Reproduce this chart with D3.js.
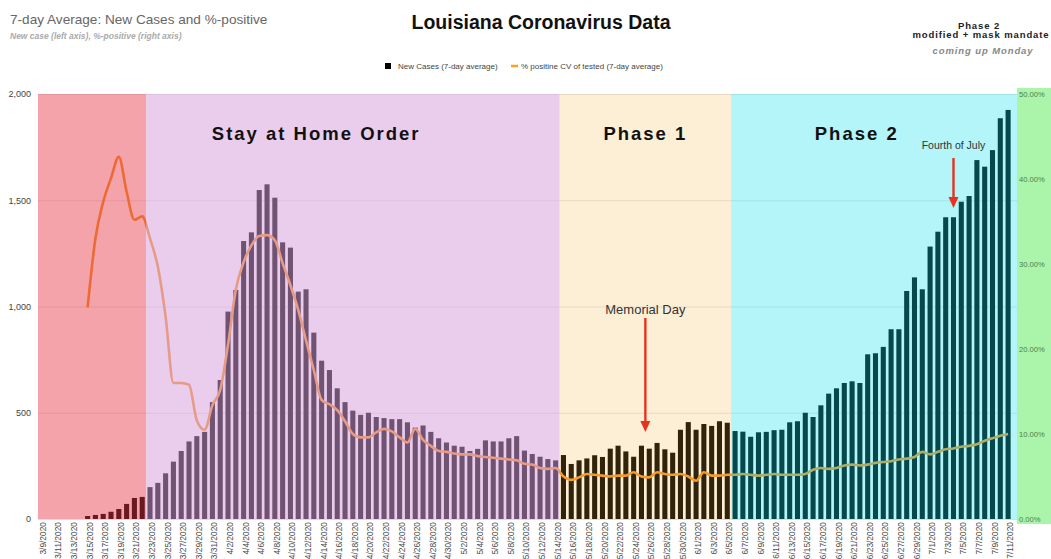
<!DOCTYPE html>
<html>
<head>
<meta charset="utf-8">
<script src="https://cdn.jsdelivr.net/npm/d3@7/dist/d3.min.js"></script>
<style>
  body { margin: 0; background: #fff; }
  svg text { font-family: "Liberation Sans", Arial, sans-serif; }
</style>
</head>
<body>
<div id="grafico"></div>
<script>
// dias do grafico: 3/9/2020 ate 7/11/2020
var dias = d3.timeDay.range(new Date(2020, 2, 9), new Date(2020, 6, 12));
var rotulos = dias.map(d3.timeFormat("%-m/%-d/%Y"));

// novos casos (media de 7 dias), eixo esquerdo
var casos = [
  0, 0, 0, 0, 0, 0, 14, 19, 24, 34, 47, 71, 99, 104,
  150, 170, 215, 270, 320, 365, 390, 410, 550,
  654, 976, 1078, 1308, 1349, 1548, 1575, 1512, 1302, 1277, 1070, 1081, 877, 745, 701,
  615, 550, 510, 490, 500, 480, 475, 470, 470, 455, 430, 440, 410, 380, 360, 345, 340, 320, 330, 370, 365, 365, 380, 390,
  322, 306, 293, 282, 276,
  301, 259, 276, 285, 300, 292, 331, 345, 318, 293, 345, 331, 358, 328, 312, 420, 456, 420, 447, 438, 460, 453,
  414, 411, 387, 408, 410, 418, 420, 455, 460, 500, 480, 535, 590, 615, 640, 648, 640, 775, 780, 810,
  893, 893, 1073, 1137, 1081, 1282, 1352, 1420, 1420, 1493, 1520, 1689, 1658, 1736, 1886, 1925
];

// % positivo (media de 7 dias), eixo direito
var positivo = [
  null, null, null, null, null, null,
  24.9, 33.0, 37.3, 40.1, 42.6, 38.5, 35.2, 35.6, 33.0, 29.7, 23.8, 16.0, 16.0, 15.8,
  11.6, 10.5, 13.4, 15.2, 20.5, 27.0, 30.2, 32.2, 33.3, 33.4, 32.8, 30.1, 27.5, 24.6, 21.0, 17.5,
  14.0, 13.5, 12.8, 11.5, 10.0, 9.6, 9.6, 10.2, 10.6, 10.3, 9.6, 9.0, 10.6, 9.3, 8.6, 8.0, 7.9,
  7.7, 7.6, 7.6, 7.4, 7.3, 7.2, 7.1, 7.0, 6.9, 6.5, 6.4, 6.0, 5.9, 6.0,
  5.0, 4.6, 4.9, 5.3, 5.2, 5.1, 5.0, 5.1, 5.1, 5.5, 5.0, 4.9, 5.5, 5.3, 5.2, 5.3, 5.0, 4.5, 5.5, 5.1, 5.1, 5.2,
  5.2, 5.3, 5.2, 5.1, 5.2, 5.3, 5.2, 5.2, 5.2, 5.3, 5.8, 6.0, 5.9, 6.0, 6.3, 6.4, 6.3, 6.4, 6.6, 6.7,
  6.8, 7.0, 7.1, 7.3, 7.9, 7.6, 7.9, 8.2, 8.3, 8.5, 8.6, 8.8, 9.2, 9.5, 9.8, 10.0
];

var ticksEsq = [0, 500, 1000, 1500, 2000];
var ticksDir = [0, 10, 20, 30, 40, 50];

// fases: indice do dia em que comecam
var faseInicio = [0, 14, 67, 89];
var faseCor = ["#e43744", "#d7a0dc", "#f5af32", "#14e1eb"];
var faseOpac = [0.46, 0.52, 0.2, 0.32];
var faseNome = ["", "Stay at Home Order", "Phase 1", "Phase 2"];
var faseNomeDia = [0, 35.3, 77.5, 104.6];

var width = 1051,
    height = 559,
    esq = 38,
    dir = 1017,
    topo = 94,
    base = 519;

var svg = d3.select("#grafico").append("svg")
    .attr("width", width)
    .attr("height", height);

var x = d3.scaleBand()
    .domain(rotulos)
    .range([36.9, 1012])
    .paddingInner(0.35)
    .paddingOuter(0.175);

var passo = x.step(),
    bw = x.bandwidth();

function posDia(d) {
  return x(rotulos[0]) + bw / 2 + d * passo;
}

var y = d3.scaleLinear().domain([0, 2000]).range([base, topo]);
var y2 = d3.scaleLinear().domain([0, 50]).range([base, topo]);

// painel verde do eixo direito
svg.append("rect")
    .attr("x", dir).attr("y", 88)
    .attr("width", width - dir).attr("height", 436)
    .attr("fill", "#aaf5aa");

// grade
svg.append("g").selectAll("line")
    .data(ticksEsq)
    .enter().append("line")
    .attr("x1", esq).attr("x2", dir)
    .attr("y1", function(d) { return y(d) + 0.5; })
    .attr("y2", function(d) { return y(d) + 0.5; })
    .attr("stroke", "#000")
    .attr("stroke-opacity", 0.1);

// barras
svg.append("g").selectAll("rect")
    .data(casos)
    .enter().append("rect")
    .attr("x", function(d, i) { return x(rotulos[i]); })
    .attr("width", bw)
    .attr("y", function(d) { return y(d); })
    .attr("height", function(d) { return base - y(d); })
    .attr("fill", "#000");

// linha % positivo
var linha = d3.line()
    .defined(function(d) { return d != null; })
    .x(function(d, i) { return x(rotulos[i]) + bw / 2; })
    .y(function(d) { return y2(d); })
    .curve(d3.curveMonotoneX);

svg.append("path")
    .attr("d", linha(positivo))
    .attr("fill", "none")
    .attr("stroke", "#f59628")
    .attr("stroke-width", 2.6)
    .attr("stroke-linejoin", "round");

// faixas coloridas das fases (por cima, transparentes)
function bordaFase(k) {
  if (k == 0) return esq;
  if (k >= faseInicio.length) return dir;
  return x(rotulos[faseInicio[k]]) - (passo - bw) / 2;
}

svg.append("g").selectAll("rect")
    .data(faseInicio)
    .enter().append("rect")
    .attr("x", function(d, k) { return bordaFase(k); })
    .attr("width", function(d, k) { return bordaFase(k + 1) - bordaFase(k); })
    .attr("y", topo)
    .attr("height", base - topo)
    .attr("fill", function(d, k) { return faseCor[k]; })
    .attr("fill-opacity", function(d, k) { return faseOpac[k]; });

// linha de base
svg.append("line")
    .attr("x1", esq).attr("x2", dir)
    .attr("y1", base + 0.5).attr("y2", base + 0.5)
    .attr("stroke", "#ddd");

// nomes das fases
svg.append("g").selectAll("text")
    .data(faseNome)
    .enter().append("text")
    .attr("x", function(d, k) { return posDia(faseNomeDia[k]); })
    .attr("y", 140)
    .attr("text-anchor", "middle")
    .attr("font-size", "18.5px")
    .attr("font-weight", "bold")
    .attr("letter-spacing", "2px")
    .attr("fill", "#111")
    .text(function(d) { return d; });

// eixos
var eixoX = svg.append("g")
    .attr("transform", "translate(0," + base + ")")
    .call(d3.axisBottom(x)
      .tickValues(rotulos.filter(function(d, i) { return i % 2 == 0; }))
      .tickSize(0));
eixoX.select(".domain").remove();
eixoX.selectAll("text")
    .attr("transform", "translate(0,3) rotate(-90)")
    .attr("x", 0).attr("y", 0)
    .attr("dy", "0.6em")
    .attr("text-anchor", "end")
    .attr("font-size", "8.4px")
    .attr("fill", "#4a4a4a");

var eixoY = svg.append("g")
    .attr("transform", "translate(" + esq + ",0)")
    .call(d3.axisLeft(y).tickValues(ticksEsq).tickFormat(d3.format(",")).tickSize(0).tickPadding(7));
eixoY.select(".domain").remove();
eixoY.selectAll("text").attr("font-size", "9px").attr("fill", "#444");

var eixoY2 = svg.append("g")
    .attr("transform", "translate(" + dir + ",0)")
    .call(d3.axisRight(y2).tickValues(ticksDir)
      .tickFormat(function(d) { return d3.format(".2f")(d) + "%"; })
      .tickSize(0).tickPadding(2));
eixoY2.select(".domain").remove();
eixoY2.selectAll("text").attr("font-size", "7.6px").attr("fill", "#4d7d4d");

// anotacoes com seta
var notaTexto = ["Memorial Day", "Fourth of July"];
var notaDia = [77.5, 117];
var notaTam = [13, 10.5];
var notaTextoY = [314, 149];
var notaSetaIni = [318, 158];
var notaSetaFim = [432, 208];

notaTexto.forEach(function(t, k) {
  var cx = posDia(notaDia[k]);
  svg.append("text")
      .attr("x", cx).attr("y", notaTextoY[k])
      .attr("text-anchor", "middle")
      .attr("font-size", notaTam[k] + "px")
      .attr("fill", "#333")
      .text(t);
  svg.append("line")
      .attr("x1", cx).attr("x2", cx)
      .attr("y1", notaSetaIni[k]).attr("y2", notaSetaFim[k] - 9)
      .attr("stroke", "#e8321e")
      .attr("stroke-width", 2.4);
  svg.append("path")
      .attr("d", "M" + (cx - 5) + "," + (notaSetaFim[k] - 11) + "L" + (cx + 5) + "," + (notaSetaFim[k] - 11) + "L" + cx + "," + notaSetaFim[k] + "Z")
      .attr("fill", "#e8321e");
});

// titulos
svg.append("text")
    .attr("x", 10).attr("y", 24)
    .attr("font-size", "13.6px")
    .attr("fill", "#666")
    .text("7-day Average: New Cases and %-positive");

svg.append("text")
    .attr("x", 10).attr("y", 39)
    .attr("font-size", "8.5px")
    .attr("font-weight", "bold")
    .attr("font-style", "italic")
    .attr("fill", "#aaa")
    .text("New case (left axis), %-positive (right axis)");

svg.append("text")
    .attr("x", 541).attr("y", 29)
    .attr("text-anchor", "middle")
    .attr("font-size", "19.5px")
    .attr("font-weight", "bold")
    .attr("fill", "#111")
    .text("Louisiana Coronavirus Data");

var canto = svg.append("g")
    .attr("font-size", "9.5px")
    .attr("font-weight", "bold")
    .attr("letter-spacing", "0.9px")
    .attr("text-anchor", "middle");
canto.append("text").attr("x", 979).attr("y", 29).attr("fill", "#222").text("Phase 2");
canto.append("text").attr("x", 981).attr("y", 38).attr("fill", "#222").text("modified + mask mandate");
canto.append("text").attr("x", 983).attr("y", 54).attr("fill", "#888").attr("font-style", "italic").text("coming up Monday");

// legenda
var leg = svg.append("g").attr("font-size", "8px").attr("fill", "#444");
leg.append("rect").attr("x", 385).attr("y", 63).attr("width", 6).attr("height", 6).attr("fill", "#000");
leg.append("text").attr("x", 398).attr("y", 69).text("New Cases (7-day average)");
leg.append("line").attr("x1", 511).attr("x2", 518).attr("y1", 66).attr("y2", 66)
    .attr("stroke", "#f5a623").attr("stroke-width", 2.5);
leg.append("text").attr("x", 521).attr("y", 69).text("% positine CV of tested (7-day average)");
</script>
</body>
</html>
